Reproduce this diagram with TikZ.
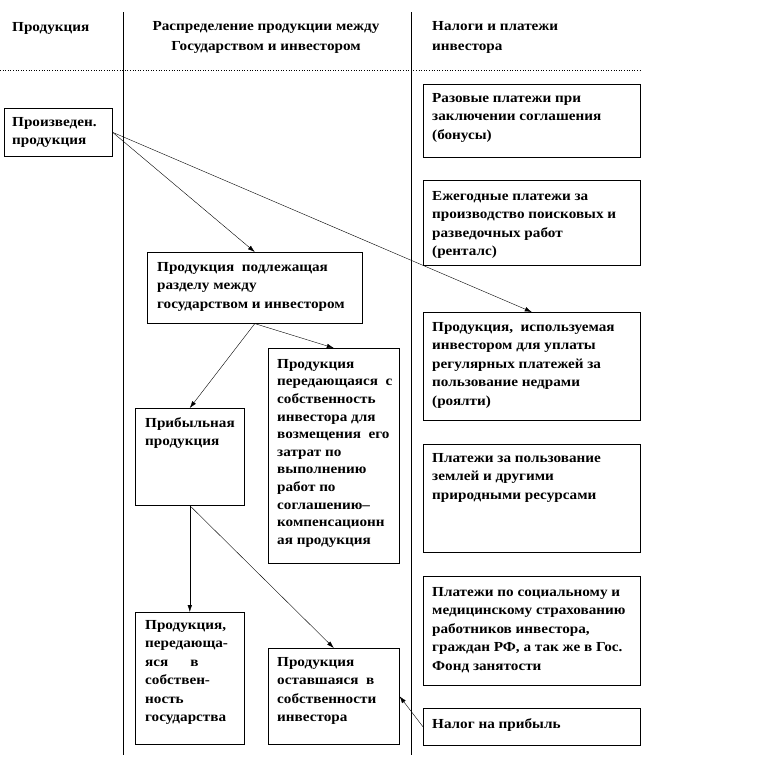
\documentclass[tikz,border=0pt]{standalone}
\usepackage{fontspec}
\setmainfont[FakeStretch=1.1]{Liberation Serif}
\usetikzlibrary{arrows.meta}
\tikzset{
    box/.style={draw, rectangle, line width=0.6pt, anchor=north west, inner sep=0pt},
    boxtext/.style={anchor=north west, inner sep=0pt, align=left, font=\bfseries\fontsize{13.8}{18.5}\selectfont},
    head/.style={inner sep=0pt, font=\bfseries\fontsize{13.8}{20}\selectfont},
    arrow/.style={-{Latex[length=7pt,width=4.5pt]}, line width=0.4pt},
    divider/.style={line width=0.8pt},
}
\begin{document}
\begin{tikzpicture}[x=1pt, y=-1pt]
    \useasboundingbox (0,0) rectangle (759,780);

    % Колонки и шапка
    \coordinate (L1top) at (123,12);
    \coordinate (L1bot) at (123,755);
    \coordinate (L2top) at (411,12);
    \coordinate (L2bot) at (411,755);
    \coordinate (Hleft) at (0,70);
    \coordinate (Hright) at (640,70);
    \draw[divider] (L1top) -- (L1bot);
    \draw[divider] (L2top) -- (L2bot);
    \draw[dotted, line width=0.6pt] (Hleft) -- (Hright);

    \node[head, anchor=west] (h1) at (12,28) {Продукция};
    \node[head, align=center] (h2) at (266,37) {Распределение продукции между\\Государством и инвестором};
    \node[head, anchor=west, align=left] (h3) at (432,37) {Налоги и платежи\\инвестора};

    % Левая колонка
    \node[box, minimum width=108pt, minimum height=48pt] (prod) at (4,108) {};
    \node[boxtext] (prod-t) at ([shift={(8pt,-9pt)}]prod.north west) {Произведен.\\продукция};

    % Средняя колонка
    \node[box, minimum width=215pt, minimum height=71pt] (split) at (147,252) {};
    \node[boxtext] (split-t) at ([shift={(10pt,-10pt)}]split.north west) {Продукция\ \ подлежащая\\разделу между\\государством и инвестором};

    \node[box, minimum width=109pt, minimum height=97pt] (profit) at (135,408) {};
    \node[boxtext] (profit-t) at ([shift={(10pt,-9pt)}]profit.north west) {Прибыльная\\продукция};

    \node[box, minimum width=131pt, minimum height=215pt] (comp) at (268,348) {};
    \node[boxtext, font=\bfseries\fontsize{13.8}{17.6}\selectfont] (comp-t) at ([shift={(9pt,-11pt)}]comp.north west)
        {Продукция\\передающаяся\ \ с\\собственность\\инвестора для\\возмещения\ \ его\\затрат по\\выполнению\\работ по\\соглашению–\\компенсационн\\ая продукция};

    \node[box, minimum width=109pt, minimum height=132pt] (state) at (135,612) {};
    \node[boxtext] (state-t) at ([shift={(10pt,-8pt)}]state.north west)
        {Продукция,\\передающа-\\яся\hspace*{22pt}в\\собствен-\\ность\\государства};

    \node[box, minimum width=131pt, minimum height=96pt] (kept) at (268,648) {};
    \node[boxtext] (kept-t) at ([shift={(9pt,-9pt)}]kept.north west) {Продукция\\оставшаяся\ \ в\\собственности\\инвестора};

    % Правая колонка
    \node[box, minimum width=217pt, minimum height=73pt] (bonus) at (423,84) {};
    \node[boxtext] (bonus-t) at ([shift={(9pt,-9pt)}]bonus.north west) {Разовые платежи при\\заключении соглашения\\(бонусы)};

    \node[box, minimum width=217pt, minimum height=85pt] (rent) at (423,180) {};
    \node[boxtext] (rent-t) at ([shift={(9pt,-11pt)}]rent.north west) {Ежегодные платежи за\\производство поисковых и\\разведочных работ\\(ренталс)};

    \node[box, minimum width=217pt, minimum height=108pt] (royalty) at (423,312) {};
    \node[boxtext] (royalty-t) at ([shift={(9pt,-10pt)}]royalty.north west) {Продукция,\ \ используемая\\инвестором для уплаты\\регулярных платежей за\\пользование недрами\\(роялти)};

    \node[box, minimum width=217pt, minimum height=108pt] (land) at (423,444) {};
    \node[boxtext] (land-t) at ([shift={(9pt,-9pt)}]land.north west) {Платежи за пользование\\землей и другими\\природными ресурсами};

    \node[box, minimum width=217pt, minimum height=109pt] (social) at (423,576) {};
    \node[boxtext] (social-t) at ([shift={(9pt,-11pt)}]social.north west) {Платежи по социальному и\\медицинскому страхованию\\работников инвестора,\\граждан РФ, а так же в Гос.\\Фонд занятости};

    \node[box, minimum width=217pt, minimum height=37pt] (tax) at (423,708) {};
    \node[boxtext] (tax-t) at ([shift={(9pt,-10pt)}]tax.north west) {Налог на прибыль};

    % Стрелки
    \draw[arrow] (prod.east) -- (split.north);
    \draw[arrow] (prod.east) -- (royalty.north);
    \draw[arrow] (split.south) -- (profit.north);
    \draw[arrow] (split.south) -- (comp.north);
    \draw[arrow] (profit.south) -- (state.north);
    \draw[arrow] (profit.south) -- (kept.north);
    \draw[arrow] (tax.west) -- (kept.east);
\end{tikzpicture}
\end{document}
